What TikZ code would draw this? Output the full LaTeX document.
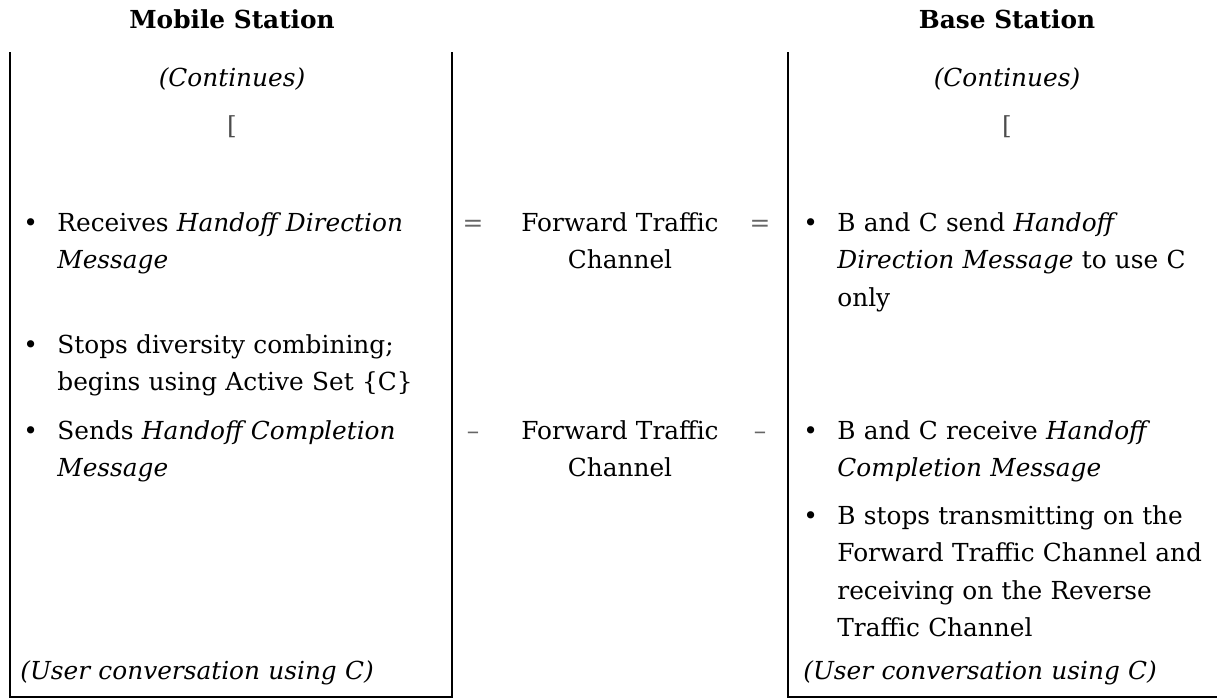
\documentclass[tikz,border=0pt]{standalone}
\usepackage{fontspec}
\setmainfont{DejaVu Serif}

\begin{document}
\begin{tikzpicture}[x=0.5pt,y=-0.5pt]
            \useasboundingbox (0,0) rectangle (1217,698);

            \begin{scope}[every node/.style={inner sep=0pt,anchor=base,font=\fontsize{12.4}{18.75}\selectfont}]
                \node (MS) [font=\fontsize{12.4}{18.75}\selectfont\bfseries] at (232,28) {Mobile Station};
                \node (BS) [font=\fontsize{12.4}{18.75}\selectfont\bfseries] at (1007,28) {Base Station};
                \node (MScont) at (232,86) {\textit{(Continues)}};
                \node (BScont) at (1007,86) {\textit{(Continues)}};
                \node (MSbrk) [anchor=center, text=black!70] at (232,127) {[};
                \node (BSbrk) [anchor=center, text=black!70] at (1007,127) {[};
            \end{scope}

            \begin{scope}[every node/.style={inner sep=0pt,anchor=base west,text width=190pt,align=left,
                          font=\fontsize{12.4}{18.75}\selectfont}]
                \node (M1dot) [text width=] at (23,231) {\textbullet};
                \node (M1) at (57,231) {Receives \textit{Handoff Direction}\\\textit{Message}};
                \node (M2dot) [text width=] at (23,353) {\textbullet};
                \node (M2) at (57,353) {Stops diversity combining;\\begins using Active Set \{C\}};
                \node (M3dot) [text width=] at (23,439) {\textbullet};
                \node (M3) at (57,439) {Sends \textit{Handoff Completion}\\\textit{Message}};
                \node (MUser) at (20,679) {\textit{(User conversation using C)}};

                \node (B1dot) [text width=] at (803,231) {\textbullet};
                \node (B1) at (837,231) {B and C send \textit{Handoff}\\\textit{Direction Message} to use C\\only};
                \node (B2dot) [text width=] at (803,439) {\textbullet};
                \node (B2) at (837,439) {B and C receive \textit{Handoff}\\\textit{Completion Message}};
                \node (B3dot) [text width=] at (803,524) {\textbullet};
                \node (B3) at (837,524) {B stops transmitting on the\\Forward Traffic Channel and\\receiving on the Reverse\\Traffic Channel};
                \node (BUser) at (803,679) {\textit{(User conversation using C)}};
            \end{scope}

            \begin{scope}[every node/.style={inner sep=0pt,anchor=base,font=\fontsize{12.4}{18.75}\selectfont}]
                \node (F1) [text width=110pt, align=center] at (620,231) {Forward Traffic\\Channel};
                \node (F1l) [text=black!60] at (473,231) {=};
                \node (F1r) [text=black!60] at (760,231) {=};
                \node (F2) [text width=110pt, align=center] at (620,439) {Forward Traffic\\Channel};
                \node (F2l) [text=black!60] at (473,439) {\textendash};
                \node (F2r) [text=black!60] at (760,439) {\textendash};
            \end{scope}

            \draw [line width=1.1pt] (10,52) -- (10,697) -- (452,697) -- (452,52);
            \draw [line width=1.1pt] (788,52) -- (788,697) -- (1217,697);
\end{tikzpicture}
\end{document}
